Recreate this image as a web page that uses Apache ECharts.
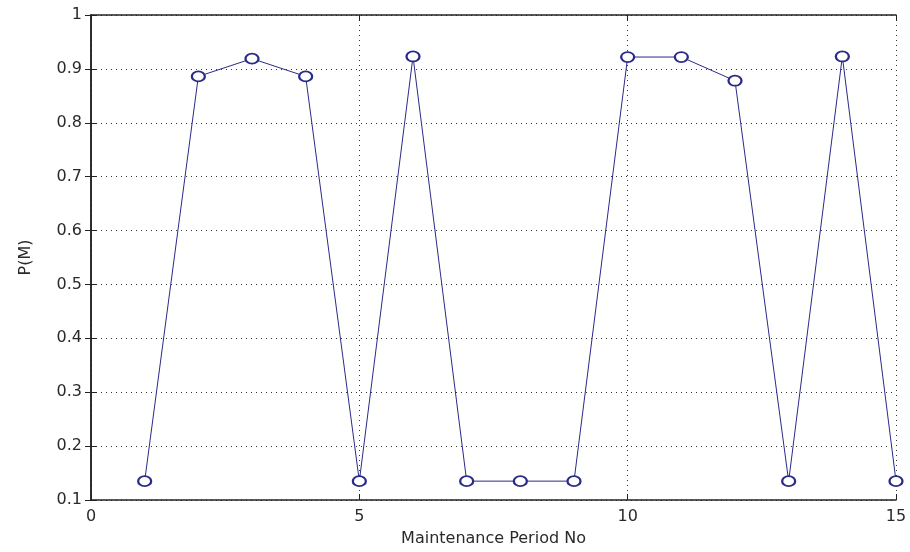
<!DOCTYPE html>
<html><head><meta charset="utf-8">
<script src="https://cdn.jsdelivr.net/npm/echarts@6/dist/echarts.min.js"></script>
<style>html,body{margin:0;padding:0;background:#fff}#c{width:910px;height:552px}</style>
</head><body><div id="c"></div>
<script>
const periods = [1,2,3,4,5,6,7,8,9,10,11,12,13,14,15];
const pM = [0.135,0.886,0.919,0.886,0.135,0.923,0.135,0.135,0.135,0.922,0.922,0.878,0.135,0.923,0.135];
const xTicks = [0,5,10,15];
const yTicks = [0.1,0.2,0.3,0.4,0.5,0.6,0.7,0.8,0.9,1];

const chart = echarts.init(document.getElementById('c'));
const font = 'DejaVu Sans, Liberation Sans, sans-serif';
const grid = {left:91, right:14, top:15, bottom:51};
const axisTxt = {color:'#2a2a2a', fontSize:16, fontFamily:font};
const dotted = {show:true, lineStyle:{color:'#333', type:[1,4], width:1}};
chart.setOption({
  animation:false,
  backgroundColor:'#fff',
  grid: grid,
  xAxis: [{
    type:'value', min:0, max:15, interval:5,
    name:'Maintenance Period No', nameLocation:'middle', nameGap:31,
    nameTextStyle:{color:'#2a2a2a', fontSize:16, fontFamily:font},
    axisLine:{lineStyle:{color:'#222', width:1.5}},
    axisTick:{inside:true, length:6, lineStyle:{color:'#222'}},
    axisLabel:{...axisTxt, margin:9, formatter:v=>xTicks.includes(v)?String(v):''},
    splitLine:dotted
  },{
    type:'value', min:0, max:15, interval:5, position:'top',
    axisLine:{lineStyle:{color:'#222', width:1.5}},
    axisTick:{inside:true, length:6, lineStyle:{color:'#222'}},
    axisLabel:{show:false}, splitLine:{show:false}
  }],
  yAxis: [{
    type:'value', min:0.1, max:1, interval:0.1,
    name:'P(M)', nameLocation:'middle', nameGap:57, nameRotate:90,
    nameTextStyle:{color:'#2a2a2a', fontSize:16, fontFamily:font},
    axisLine:{show:true, lineStyle:{color:'#222', width:1.5}},
    axisTick:{show:true, inside:true, length:6, lineStyle:{color:'#222'}},
    axisLabel:{...axisTxt, margin:9, formatter:v=>{const t=yTicks.find(y=>Math.abs(y-v)<1e-6);return t===undefined?'':(t===1?'1':t.toFixed(1));}},
    splitLine:dotted
  },{
    type:'value', min:0.1, max:1, interval:0.1, position:'right',
    axisLine:{show:true, lineStyle:{color:'#222', width:1.5}},
    axisTick:{show:true, inside:true, length:6, lineStyle:{color:'#222'}},
    axisLabel:{show:false}, splitLine:{show:false}
  }],
  series: [{
    type:'line',
    data: periods.map((p,i)=>[p,pM[i]]),
    symbol:'emptyCircle', symbolSize:[13,10],
    lineStyle:{color:'#2a2a8a', width:1},
    itemStyle:{color:'#2a2a8a', borderColor:'#2a2a8a', borderWidth:1.2},
    clip:false
  }]
});
</script></body></html>
